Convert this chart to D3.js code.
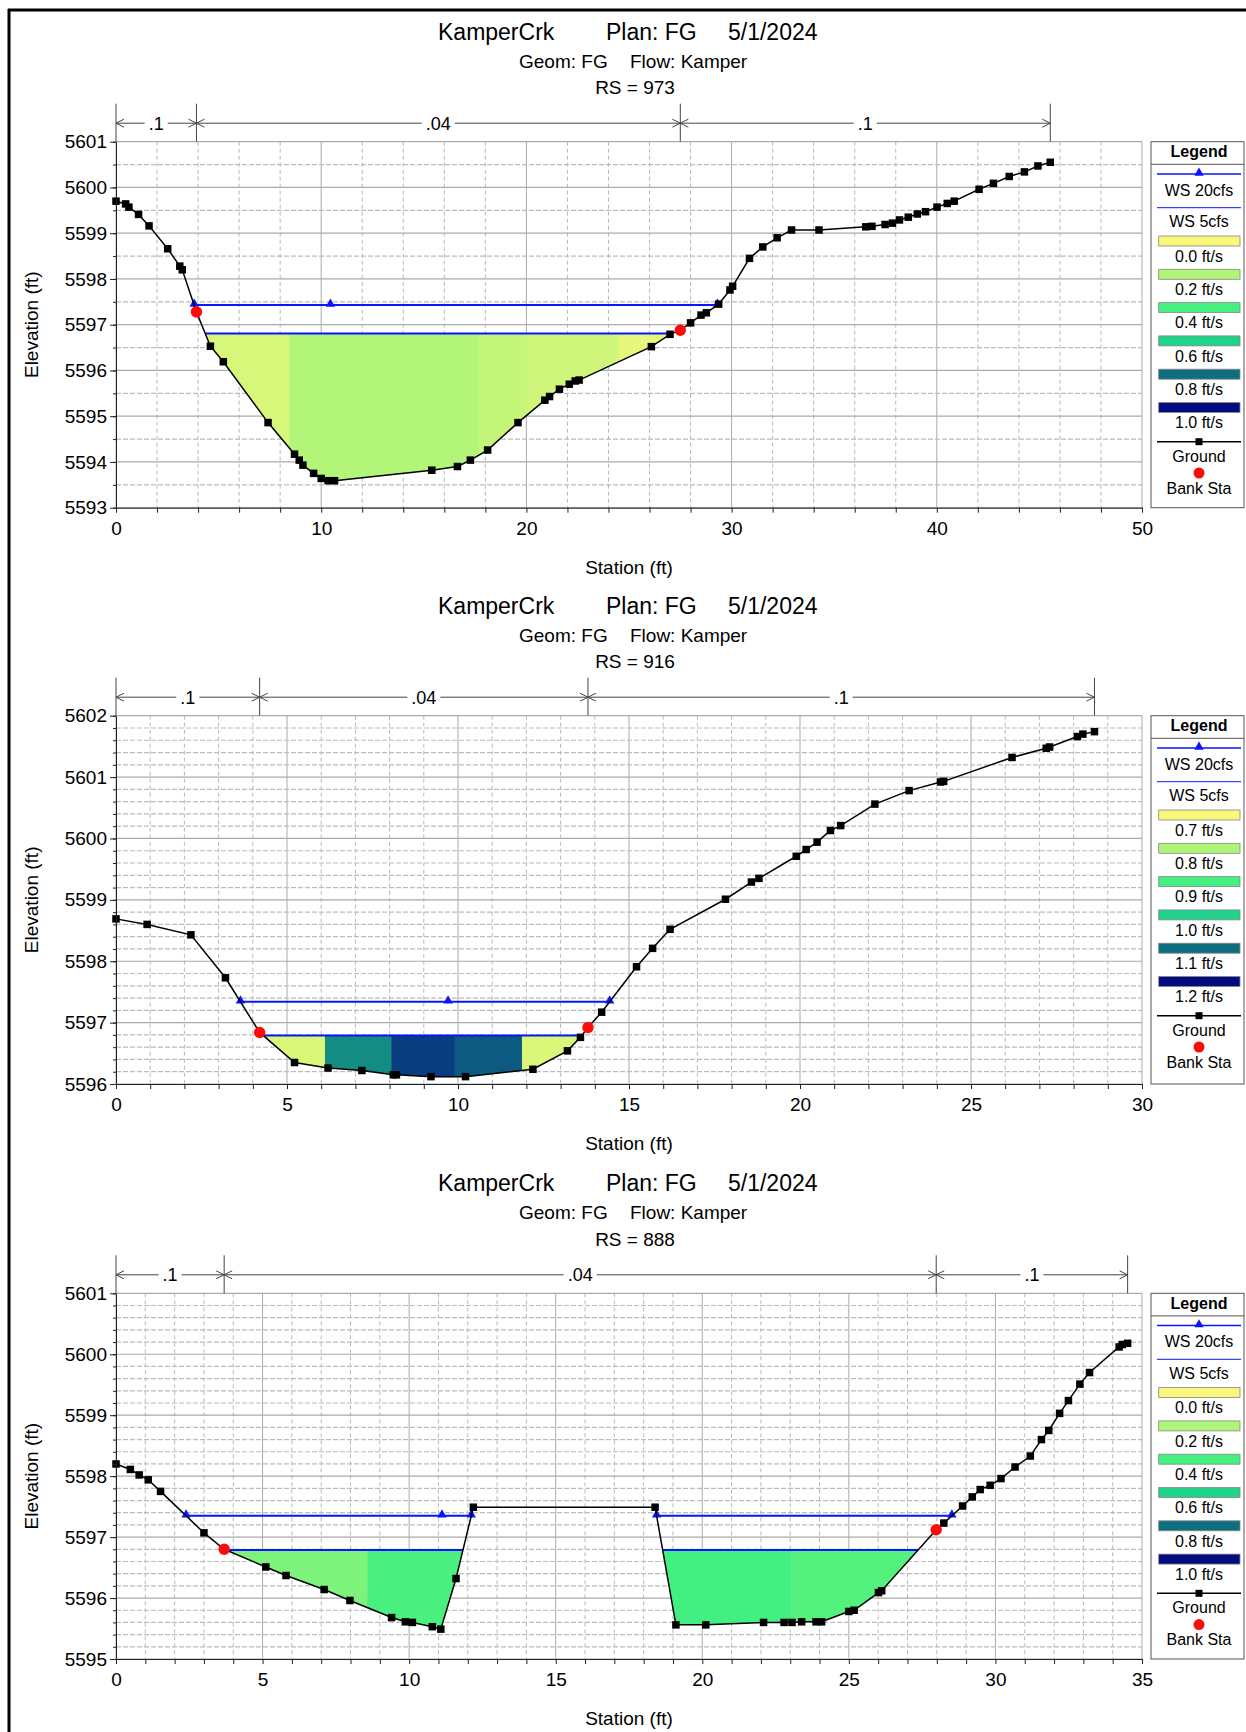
<!DOCTYPE html>
<html>
<head>
<meta charset="utf-8">
<script src="https://cdn.jsdelivr.net/npm/d3@7"></script>
<style>
  body { margin: 0; background: #fff; }
  text { font-family: "Liberation Sans", Arial, sans-serif; fill: #000; }
</style>
</head>
<body>
<div id="chart"></div>
<script>
// ---- RS 973 ----
const p1Sta = [0, 0.47, 0.63, 1.10, 1.61, 2.52, 3.11, 3.23, 3.92, 4.60, 5.23, 7.41, 8.70, 8.93, 9.11, 9.63, 10.00, 10.34, 10.65,
  15.39, 16.64, 17.27, 18.11, 19.59, 20.90, 21.13, 21.61, 22.09, 22.38, 22.57, 26.09, 27.00, 27.50, 28.00, 28.51, 28.77, 29.37,
  29.92, 30.05, 30.87, 31.52, 32.22, 32.92, 34.26, 36.54, 36.84, 37.48, 37.84, 38.18, 38.61, 39.05, 39.45, 40.01, 40.51, 40.85,
  42.06, 42.76, 43.53, 44.27, 44.93, 45.53];
const p1Elev = [5599.70, 5599.64, 5599.57, 5599.41, 5599.16, 5598.66, 5598.28, 5598.20, 5597.28, 5596.53, 5596.19, 5594.86, 5594.17,
  5594.04, 5593.93, 5593.75, 5593.64, 5593.59, 5593.59, 5593.82, 5593.90, 5594.04, 5594.26, 5594.86, 5595.35, 5595.43, 5595.59,
  5595.70, 5595.77, 5595.79, 5596.52, 5596.79, 5596.88, 5597.04, 5597.21, 5597.26, 5597.45, 5597.76, 5597.84, 5598.45, 5598.70,
  5598.90, 5599.07, 5599.07, 5599.14, 5599.15, 5599.19, 5599.22, 5599.29, 5599.35, 5599.42, 5599.47, 5599.57, 5599.65, 5599.70,
  5599.96, 5600.09, 5600.24, 5600.34, 5600.47, 5600.55];
const p1Banks = [3.92, 27.50];
const p1Ws20 = 5597.43, p1Ws5 = 5596.81;
const p1Ws20Mid = [10.45];
const p1Edges = [4.3, 8.45, 17.67, 20.0, 24.5, 27.2];
const p1Vel = [0.09, 0.19, 0.14, 0.11, 0.05];
const p1XTicks = [0, 10, 20, 30, 40, 50];
const p1YTicks = [5593, 5594, 5595, 5596, 5597, 5598, 5599, 5600, 5601];

// ---- RS 916 ----
const p2Sta = [0, 0.91, 2.19, 3.20, 4.20, 5.22, 6.20, 7.19, 8.11, 8.20, 9.21, 10.22, 12.19, 13.20, 13.58, 13.80, 14.20, 15.22,
  15.69, 16.20, 17.82, 18.58, 18.80, 19.89, 20.18, 20.50, 20.89, 21.19, 22.19, 23.19, 24.11, 24.20, 26.20, 27.20, 27.30, 28.11,
  28.27, 28.61];
const p2Elev = [5598.69, 5598.60, 5598.43, 5597.73, 5596.84, 5596.35, 5596.26, 5596.22, 5596.15, 5596.15, 5596.12, 5596.12,
  5596.24, 5596.54, 5596.76, 5596.92, 5597.17, 5597.91, 5598.21, 5598.52, 5599.01, 5599.29, 5599.35, 5599.71, 5599.82, 5599.94,
  5600.13, 5600.21, 5600.56, 5600.78, 5600.92, 5600.93, 5601.32, 5601.47, 5601.49, 5601.66, 5601.70, 5601.74];
const p2Banks = [4.20, 13.80];
const p2Ws20 = 5597.34, p2Ws5 = 5596.79;
const p2Ws20Mid = [9.71];
const p2Edges = [4.2, 6.11, 8.05, 9.9, 11.87, 13.7];
const p2Vel = [0.74, 1.07, 1.15, 1.12, 0.74];
const p2XTicks = [0, 5, 10, 15, 20, 25, 30];
const p2YTicks = [5596, 5597, 5598, 5599, 5600, 5601, 5602];

// ---- RS 888 ----
const p3Sta = [0, 0.49, 0.79, 1.10, 1.52, 3.00, 3.69, 5.11, 5.80, 7.10, 7.98, 9.40, 9.87, 10.11, 10.79, 11.08, 11.60, 12.19,
  18.39, 19.10, 20.12, 22.09, 22.79, 23.06, 23.39, 23.88, 24.07, 25.00, 25.18, 26.01, 26.12, 27.98, 28.24, 28.88, 29.21, 29.48,
  29.82, 30.19, 30.67, 31.19, 31.57, 31.82, 32.19, 32.49, 32.88, 33.21, 34.22, 34.33, 34.51];
const p3Elev = [5598.20, 5598.11, 5598.02, 5597.94, 5597.75, 5597.07, 5596.80, 5596.51, 5596.37, 5596.14, 5595.96, 5595.68,
  5595.61, 5595.60, 5595.53, 5595.49, 5596.32, 5597.49, 5597.49, 5595.56, 5595.56, 5595.60, 5595.60, 5595.60, 5595.61, 5595.61,
  5595.61, 5595.78, 5595.80, 5596.09, 5596.12, 5597.12, 5597.23, 5597.51, 5597.66, 5597.78, 5597.85, 5597.96, 5598.15, 5598.33,
  5598.60, 5598.75, 5599.03, 5599.24, 5599.51, 5599.70, 5600.12, 5600.16, 5600.18];
const p3Banks = [3.69, 27.98];
const p3Ws20 = 5597.35, p3Ws5 = 5596.79;
const p3Ws20Mid = [11.12];
const p3Edges = [3.6, 8.57, 12.2, 18.4, 23.03, 27.5];
const p3Vel = [0.29, 0.39, 0.4, 0.41, 0.37];
const p3XTicks = [0, 5, 10, 15, 20, 25, 30, 35];
const p3YTicks = [5595, 5596, 5597, 5598, 5599, 5600, 5601];

// shared
const nValues = [".1", ".04", ".1"];
const velLegendA = [0.0, 0.2, 0.4, 0.6, 0.8, 1.0];
const velLegendB = [0.7, 0.8, 0.9, 1.0, 1.1, 1.2];
const velColors = ["#f8f87c", "#aef578", "#44f080", "#20d28a", "#0e6e80", "#020c80"];

const panels = [
  { rs: "973", sta: p1Sta, elev: p1Elev, banks: p1Banks, ws20: p1Ws20, ws5: p1Ws5, mid: p1Ws20Mid, edges: p1Edges, vel: p1Vel,
    legend: velLegendA, xTicks: p1XTicks, yTicks: p1YTicks, xStep: 2, yStep: 0.5, top: 141.7, h: 366 },
  { rs: "916", sta: p2Sta, elev: p2Elev, banks: p2Banks, ws20: p2Ws20, ws5: p2Ws5, mid: p2Ws20Mid, edges: p2Edges, vel: p2Vel,
    legend: velLegendB, xTicks: p2XTicks, yTicks: p2YTicks, xStep: 1, yStep: 0.2, top: 715.7, h: 368.3 },
  { rs: "888", sta: p3Sta, elev: p3Elev, banks: p3Banks, ws20: p3Ws20, ws5: p3Ws5, mid: p3Ws20Mid, edges: p3Edges, vel: p3Vel,
    legend: velLegendA, xTicks: p3XTicks, yTicks: p3YTicks, xStep: 1, yStep: 0.2, top: 1293.3, h: 365.7 }
];

const plotLeft = 116, plotRight = 1142;
const legLeft = 1151, legRight = 1244;
const cx = (plotLeft + plotRight) / 2;

const svg = d3.select("#chart").append("svg")
  .attr("width", 1246).attr("height", 1732);

// frame
svg.append("line").attr("x1", 8).attr("x2", 1246).attr("y1", 10).attr("y2", 10)
  .attr("stroke", "#000").attr("stroke-width", 3);
svg.append("line").attr("x1", 9).attr("x2", 9).attr("y1", 9).attr("y2", 1732)
  .attr("stroke", "#000").attr("stroke-width", 3);

// ground points plus the points where the ground crosses a water level
function withCrossings(sta, elev, ws) {
  const pts = [];
  for (let i = 0; i < sta.length; i++) {
    if (i > 0) {
      const e0 = elev[i - 1], e1 = elev[i];
      if ((e0 - ws) * (e1 - ws) < 0) {
        const t = (ws - e0) / (e1 - e0);
        pts.push([sta[i - 1] + t * (sta[i] - sta[i - 1]), ws]);
      }
    }
    pts.push([sta[i], elev[i]]);
  }
  return pts;
}

function wetRuns(pts, ws) {
  const runs = [];
  let cur = null;
  pts.forEach(p => {
    if (p[1] <= ws + 1e-9) {
      if (!cur) { cur = []; runs.push(cur); }
      cur.push(p[0]);
    } else cur = null;
  });
  return runs.filter(r => r.length > 1).map(r => [r[0], r[r.length - 1]]);
}

function frange(a, b, step) {
  const n = Math.round((b - a) / step);
  return d3.range(n + 1).map(i => +(a + i * step).toFixed(4));
}

panels.forEach((p, k) => {
  const top = p.top, bottom = p.top + p.h;
  const xMax = p.xTicks[p.xTicks.length - 1];
  const yMin = p.yTicks[0], yMax = p.yTicks[p.yTicks.length - 1];
  const x = d3.scaleLinear().domain([0, xMax]).range([plotLeft, plotRight]);
  const y = d3.scaleLinear().domain([yMin, yMax]).range([bottom, top]);
  const color = d3.scaleLinear().domain(p.legend).range(velColors).clamp(true);
  const g = svg.append("g");

  // titles
  const t1 = top - 102;
  [["KamperCrk", -191], ["Plan: FG", -23], ["5/1/2024", 99]].forEach(([s, dx]) =>
    g.append("text").attr("x", cx + dx).attr("y", t1).attr("font-size", 23).text(s));
  [["Geom: FG", -110], ["Flow: Kamper", 1]].forEach(([s, dx]) =>
    g.append("text").attr("x", cx + dx).attr("y", top - 74).attr("font-size", 19).text(s));
  g.append("text").attr("x", cx + 6).attr("y", top - 47.7).attr("text-anchor", "middle")
    .attr("font-size", 19).text("RS = " + p.rs);

  // grid
  const xMinor = frange(0, xMax, p.xStep);
  const yMinor = frange(yMin, yMax, p.yStep);
  g.append("g").selectAll("line").data(xMinor).join("line")
    .attr("x1", d => x(d)).attr("x2", d => x(d)).attr("y1", top).attr("y2", bottom)
    .attr("stroke", d => p.xTicks.includes(d) ? "#aaaaaa" : "#b8b8b8")
    .attr("stroke-dasharray", d => p.xTicks.includes(d) ? null : "4,3");
  g.append("g").selectAll("line").data(yMinor).join("line")
    .attr("x1", plotLeft).attr("x2", plotRight).attr("y1", d => y(d)).attr("y2", d => y(d))
    .attr("stroke", d => p.yTicks.includes(d) ? "#aaaaaa" : "#bcbcbc")
    .attr("stroke-width", 1.2)
    .attr("stroke-dasharray", d => p.yTicks.includes(d) ? null : "5,2");

  // water area (WS 5cfs), coloured by velocity slices
  const wet = withCrossings(p.sta, p.elev, p.ws5);
  const clipId = "wet" + k;
  g.append("clipPath").attr("id", clipId).append("path")
    .attr("d", d3.area().x(d => x(d[0])).y0(d => y(d[1])).y1(d => y(Math.max(d[1], p.ws5)))(wet));
  g.append("g").attr("clip-path", `url(#${clipId})`).selectAll("rect").data(p.vel).join("rect")
    .attr("x", (d, i) => x(p.edges[i]))
    .attr("width", (d, i) => x(p.edges[i + 1]) - x(p.edges[i]) + 0.5)
    .attr("y", y(p.ws5)).attr("height", bottom - y(p.ws5))
    .attr("fill", d => color(d));

  // water surface lines
  const blue = "#0a14ff";
  const runs20 = wetRuns(withCrossings(p.sta, p.elev, p.ws20), p.ws20);
  const runs5 = wetRuns(wet, p.ws5);
  g.append("g").selectAll("line").data(runs5).join("line")
    .attr("x1", d => x(d[0])).attr("x2", d => x(d[1])).attr("y1", y(p.ws5)).attr("y2", y(p.ws5))
    .attr("stroke", blue).attr("stroke-width", 2);
  g.append("g").selectAll("line").data(runs20).join("line")
    .attr("x1", d => x(d[0])).attr("x2", d => x(d[1])).attr("y1", y(p.ws20)).attr("y2", y(p.ws20))
    .attr("stroke", blue).attr("stroke-width", 2);
  const marks = runs20.flat().concat(p.mid);
  g.append("g").selectAll("path").data(marks).join("path")
    .attr("transform", d => `translate(${x(d)},${y(p.ws20) - 1})`)
    .attr("d", d3.symbol(d3.symbolTriangle, 38)).attr("fill", blue);

  // ground
  const ground = p.sta.map((s, i) => [s, p.elev[i]]);
  g.append("path").datum(ground)
    .attr("d", d3.line().x(d => x(d[0])).y(d => y(d[1])))
    .attr("fill", "none").attr("stroke", "#000").attr("stroke-width", 1.5);
  g.append("g").selectAll("rect").data(ground).join("rect")
    .attr("x", d => x(d[0]) - 3.75).attr("y", d => y(d[1]) - 3.75)
    .attr("width", 7.5).attr("height", 7.5).attr("fill", "#000");
  const elevAt = s => {
    const i = d3.bisectLeft(p.sta, s);
    if (p.sta[i] === s) return p.elev[i];
    const t = (s - p.sta[i - 1]) / (p.sta[i] - p.sta[i - 1]);
    return p.elev[i - 1] + t * (p.elev[i] - p.elev[i - 1]);
  };
  g.append("g").selectAll("circle").data(p.banks).join("circle")
    .attr("cx", d => x(d)).attr("cy", d => y(elevAt(d))).attr("r", 5.7).attr("fill", "#ff0a0a");

  // axes
  const yAx = g.append("g").attr("transform", `translate(${plotLeft},0)`)
    .call(d3.axisLeft(y).tickValues(p.yTicks).tickSize(6).tickSizeOuter(0).tickPadding(3).tickFormat(d3.format("d")));
  g.append("g").attr("transform", `translate(${plotLeft},0)`)
    .call(d3.axisLeft(y).tickValues(yMinor).tickSize(3).tickSizeOuter(0).tickFormat(""))
    .select(".domain").remove();
  const xAx = g.append("g").attr("transform", `translate(0,${bottom})`)
    .call(d3.axisBottom(x).tickValues(xMinor).tickSize(5).tickSizeOuter(0).tickPadding(9)
      .tickFormat(d => p.xTicks.includes(d) ? d : ""));
  [yAx, xAx].forEach(a => {
    a.selectAll("text").attr("font-size", 19).attr("font-family", "Liberation Sans, Arial, sans-serif").attr("fill", "#000");
    a.selectAll("line,path").attr("stroke", "#222");
  });
  g.selectAll(".tick line").attr("stroke", "#222");

  g.append("text").attr("x", cx).attr("y", bottom + 66).attr("text-anchor", "middle")
    .attr("font-size", 19).text("Station (ft)");
  g.append("text").attr("transform", `translate(38,${(top + bottom) / 2}) rotate(-90)`)
    .attr("text-anchor", "middle").attr("font-size", 19).text("Elevation (ft)");

  // Manning's n bar
  const nB = [p.sta[0], p.banks[0], p.banks[1], p.sta[p.sta.length - 1]];
  const yN = top - 18.5;
  g.append("g").selectAll("line").data(nB).join("line")
    .attr("x1", d => x(d)).attr("x2", d => x(d)).attr("y1", top - 38).attr("y2", top)
    .attr("stroke", "#444");
  nValues.forEach((v, i) => {
    const a = x(nB[i]), b = x(nB[i + 1]), m = (a + b) / 2;
    const t = g.append("text").attr("x", m).attr("y", yN + 6.5).attr("text-anchor", "middle")
      .attr("font-size", 18).text(v);
    const w = t.node().getComputedTextLength();
    g.append("path")
      .attr("d", `M${a},${yN}H${m - w / 2 - 4}M${m + w / 2 + 4},${yN}H${b}` +
        `M${a + 8},${yN - 4}L${a},${yN}L${a + 8},${yN + 4}` +
        `M${b - 8},${yN - 4}L${b},${yN}L${b - 8},${yN + 4}`)
      .attr("fill", "none").attr("stroke", "#444");
  });

  // legend
  const L = g.append("g");
  const lc = (legLeft + legRight) / 2 + 1.5;
  L.append("rect").attr("x", legLeft).attr("y", top).attr("width", legRight - legLeft).attr("height", p.h)
    .attr("fill", "#fff").attr("stroke", "#555");
  L.append("text").attr("x", lc).attr("y", top + 15.7).attr("text-anchor", "middle")
    .attr("font-size", 16).attr("font-weight", "bold").text("Legend");
  L.append("line").attr("x1", legLeft).attr("x2", legRight).attr("y1", top + 22.6).attr("y2", top + 22.6)
    .attr("stroke", "#555");
  L.append("line").attr("x1", 1157).attr("x2", 1241).attr("y1", top + 32.3).attr("y2", top + 32.3)
    .attr("stroke", blue).attr("stroke-width", 1.5);
  L.append("path").attr("transform", `translate(${lc},${top + 31.3})`)
    .attr("d", d3.symbol(d3.symbolTriangle, 38)).attr("fill", blue);
  L.append("text").attr("x", lc).attr("y", top + 54).attr("text-anchor", "middle").attr("font-size", 16).text("WS 20cfs");
  L.append("line").attr("x1", 1157).attr("x2", 1241).attr("y1", top + 66).attr("y2", top + 66)
    .attr("stroke", blue).attr("stroke-width", 1);
  L.append("text").attr("x", lc).attr("y", top + 85.7).attr("text-anchor", "middle").attr("font-size", 16).text("WS 5cfs");
  p.legend.forEach((v, i) => {
    const yy = top + 94.3 + 33.3 * i;
    L.append("rect").attr("x", 1158.7).attr("y", yy).attr("width", 81.3).attr("height", 10)
      .attr("fill", color(v)).attr("stroke", "#888").attr("stroke-width", 0.8);
    L.append("text").attr("x", lc).attr("y", yy + 25.7).attr("text-anchor", "middle").attr("font-size", 16)
      .text(v.toFixed(1) + " ft/s");
  });
  L.append("line").attr("x1", 1157).attr("x2", 1241).attr("y1", top + 300).attr("y2", top + 300)
    .attr("stroke", "#000").attr("stroke-width", 1.5);
  L.append("rect").attr("x", lc - 3.5).attr("y", top + 296.5).attr("width", 7).attr("height", 7).attr("fill", "#000");
  L.append("text").attr("x", lc).attr("y", top + 320).attr("text-anchor", "middle").attr("font-size", 16).text("Ground");
  L.append("circle").attr("cx", lc).attr("cy", top + 331.3).attr("r", 5.5).attr("fill", "#ff0a0a");
  L.append("text").attr("x", lc).attr("y", top + 352).attr("text-anchor", "middle").attr("font-size", 16).text("Bank Sta");
});
</script>
</body>
</html>
